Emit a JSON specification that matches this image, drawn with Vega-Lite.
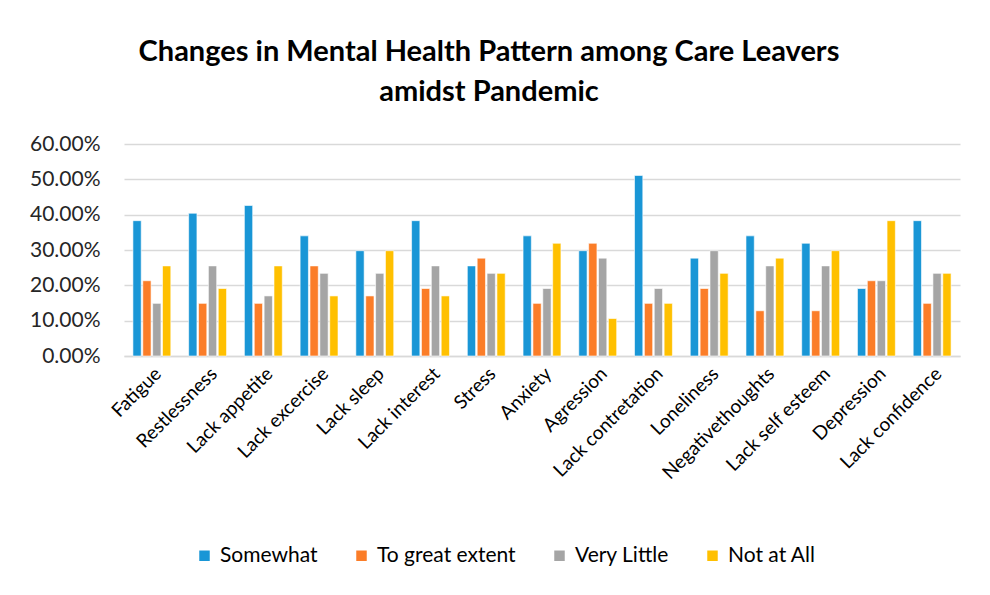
{
  "$schema": "https://vega.github.io/schema/vega-lite/v6.json",
  "width": 836,
  "height": 212,
  "autosize": {"type": "none"},
  "padding": {"left": 124, "top": 144, "right": 30, "bottom": 239},
  "background": "white",
  "title": {
    "text": ["Changes in Mental Health Pattern among Care Leavers", "amidst Pandemic"],
    "anchor": "middle",
    "dx": -53,
    "offset": 26,
    "font": "Lato",
    "fontSize": 29,
    "fontWeight": "bold",
    "lineHeight": 40,
    "color": "#000000"
  },
  "data": {
    "values": [
      {"symptom": "Fatigue", "response": "Somewhat", "share": 0.383},
      {"symptom": "Fatigue", "response": "To great extent", "share": 0.213},
      {"symptom": "Fatigue", "response": "Very Little", "share": 0.149},
      {"symptom": "Fatigue", "response": "Not at All", "share": 0.255},
      {"symptom": "Restlessness", "response": "Somewhat", "share": 0.404},
      {"symptom": "Restlessness", "response": "To great extent", "share": 0.149},
      {"symptom": "Restlessness", "response": "Very Little", "share": 0.255},
      {"symptom": "Restlessness", "response": "Not at All", "share": 0.191},
      {"symptom": "Lack appetite", "response": "Somewhat", "share": 0.426},
      {"symptom": "Lack appetite", "response": "To great extent", "share": 0.149},
      {"symptom": "Lack appetite", "response": "Very Little", "share": 0.170},
      {"symptom": "Lack appetite", "response": "Not at All", "share": 0.255},
      {"symptom": "Lack excercise", "response": "Somewhat", "share": 0.340},
      {"symptom": "Lack excercise", "response": "To great extent", "share": 0.255},
      {"symptom": "Lack excercise", "response": "Very Little", "share": 0.234},
      {"symptom": "Lack excercise", "response": "Not at All", "share": 0.170},
      {"symptom": "Lack sleep", "response": "Somewhat", "share": 0.298},
      {"symptom": "Lack sleep", "response": "To great extent", "share": 0.170},
      {"symptom": "Lack sleep", "response": "Very Little", "share": 0.234},
      {"symptom": "Lack sleep", "response": "Not at All", "share": 0.298},
      {"symptom": "Lack interest", "response": "Somewhat", "share": 0.383},
      {"symptom": "Lack interest", "response": "To great extent", "share": 0.191},
      {"symptom": "Lack interest", "response": "Very Little", "share": 0.255},
      {"symptom": "Lack interest", "response": "Not at All", "share": 0.170},
      {"symptom": "Stress", "response": "Somewhat", "share": 0.255},
      {"symptom": "Stress", "response": "To great extent", "share": 0.277},
      {"symptom": "Stress", "response": "Very Little", "share": 0.234},
      {"symptom": "Stress", "response": "Not at All", "share": 0.234},
      {"symptom": "Anxiety", "response": "Somewhat", "share": 0.340},
      {"symptom": "Anxiety", "response": "To great extent", "share": 0.149},
      {"symptom": "Anxiety", "response": "Very Little", "share": 0.191},
      {"symptom": "Anxiety", "response": "Not at All", "share": 0.319},
      {"symptom": "Agression", "response": "Somewhat", "share": 0.298},
      {"symptom": "Agression", "response": "To great extent", "share": 0.319},
      {"symptom": "Agression", "response": "Very Little", "share": 0.277},
      {"symptom": "Agression", "response": "Not at All", "share": 0.106},
      {"symptom": "Lack contretation", "response": "Somewhat", "share": 0.511},
      {"symptom": "Lack contretation", "response": "To great extent", "share": 0.149},
      {"symptom": "Lack contretation", "response": "Very Little", "share": 0.191},
      {"symptom": "Lack contretation", "response": "Not at All", "share": 0.149},
      {"symptom": "Loneliness", "response": "Somewhat", "share": 0.277},
      {"symptom": "Loneliness", "response": "To great extent", "share": 0.191},
      {"symptom": "Loneliness", "response": "Very Little", "share": 0.298},
      {"symptom": "Loneliness", "response": "Not at All", "share": 0.234},
      {"symptom": "Negativethoughts", "response": "Somewhat", "share": 0.340},
      {"symptom": "Negativethoughts", "response": "To great extent", "share": 0.128},
      {"symptom": "Negativethoughts", "response": "Very Little", "share": 0.255},
      {"symptom": "Negativethoughts", "response": "Not at All", "share": 0.277},
      {"symptom": "Lack self esteem", "response": "Somewhat", "share": 0.319},
      {"symptom": "Lack self esteem", "response": "To great extent", "share": 0.128},
      {"symptom": "Lack self esteem", "response": "Very Little", "share": 0.255},
      {"symptom": "Lack self esteem", "response": "Not at All", "share": 0.298},
      {"symptom": "Depression", "response": "Somewhat", "share": 0.191},
      {"symptom": "Depression", "response": "To great extent", "share": 0.213},
      {"symptom": "Depression", "response": "Very Little", "share": 0.213},
      {"symptom": "Depression", "response": "Not at All", "share": 0.383},
      {"symptom": "Lack confidence", "response": "Somewhat", "share": 0.383},
      {"symptom": "Lack confidence", "response": "To great extent", "share": 0.149},
      {"symptom": "Lack confidence", "response": "Very Little", "share": 0.234},
      {"symptom": "Lack confidence", "response": "Not at All", "share": 0.234}
    ]
  },
  "mark": {"type": "bar", "stroke": "white", "strokeWidth": 0.6},
  "encoding": {
    "x": {
      "field": "symptom",
      "type": "nominal",
      "sort": null,
      "scale": {"paddingInner": 0.32, "paddingOuter": 0.16},
      "axis": {
        "title": null,
        "labelAngle": -45,
        "labelFont": "Lato",
        "labelFontSize": 19,
        "labelColor": "#000000",
        "labelPadding": 8,
        "labelOverlap": false,
        "ticks": false,
        "domainColor": "#d9d9d9",
        "domainWidth": 1.5
      }
    },
    "xOffset": {
      "field": "response",
      "type": "nominal",
      "sort": ["Somewhat", "To great extent", "Very Little", "Not at All"],
      "scale": {"paddingInner": 0.16, "paddingOuter": 0}
    },
    "y": {
      "field": "share",
      "type": "quantitative",
      "scale": {"domain": [0, 0.6]},
      "axis": {
        "title": null,
        "format": ".2%",
        "values": [0, 0.1, 0.2, 0.3, 0.4, 0.5, 0.6],
        "labelOverlap": false,
        "labelFont": "Lato",
        "labelFontSize": 21,
        "labelColor": "#262626",
        "labelPadding": 24,
        "ticks": false,
        "domain": false,
        "gridColor": "#d9d9d9",
        "gridWidth": 1.5
      }
    },
    "color": {
      "field": "response",
      "type": "nominal",
      "sort": ["Somewhat", "To great extent", "Very Little", "Not at All"],
      "scale": {
        "domain": ["Somewhat", "To great extent", "Very Little", "Not at All"],
        "range": ["#1996d6", "#fb7d28", "#a5a5a5", "#ffc000"]
      },
      "legend": {
        "title": null,
        "orient": "none",
        "direction": "horizontal",
        "legendX": 70,
        "legendY": 401,
        "symbolType": "square",
        "symbolSize": 110,
        "symbolStrokeWidth": 0,
        "labelFont": "Lato",
        "labelFontSize": 21,
        "labelColor": "#000000",
        "columnPadding": 33,
        "labelOffset": 5
      }
    }
  },
  "config": {
    "view": {"stroke": null}
  }
}
